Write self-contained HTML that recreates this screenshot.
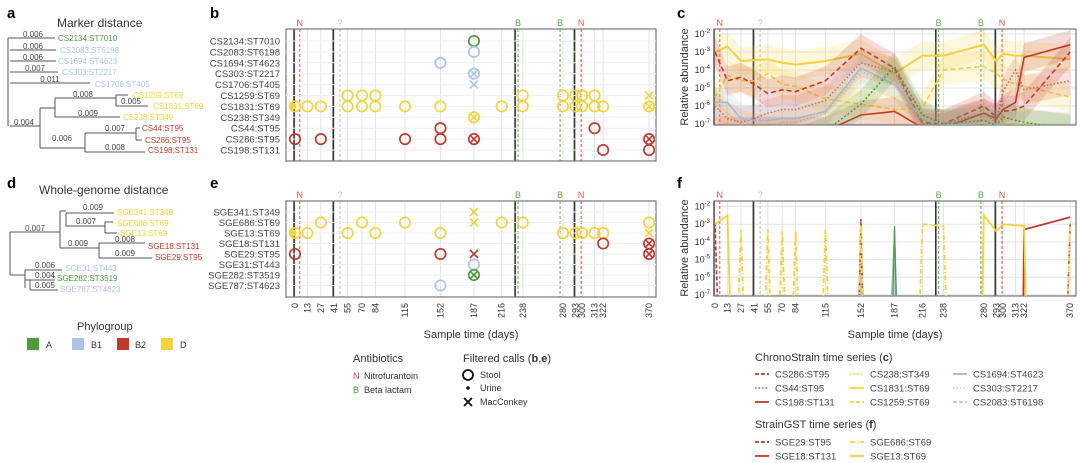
<!DOCTYPE html>
<html><head><meta charset="utf-8">
<style>
html,body{margin:0;padding:0;background:#fff;}
svg{display:block;font-family:"Liberation Sans",sans-serif;}
</style></head>
<body>
<svg id="fig" width="1080" height="463" viewBox="0 0 1080 463" xmlns="http://www.w3.org/2000/svg">
<g id="static">
  <text x="7" y="18" font-size="15" font-weight="bold">a</text>
  <text x="57" y="27" font-size="12" fill="#333">Marker distance</text>
  <text x="7" y="188" font-size="15" font-weight="bold">d</text>
  <text x="39" y="194" font-size="12" fill="#333">Whole-genome distance</text>
  <text x="210" y="18" font-size="15" font-weight="bold">b</text>
  <text x="210" y="188" font-size="15" font-weight="bold">e</text>
  <text x="677" y="18" font-size="15" font-weight="bold">c</text>
  <text x="677" y="188" font-size="15" font-weight="bold">f</text>
  <text transform="translate(688,77) rotate(-90)" text-anchor="middle" font-size="11" fill="#333">Relative abundance</text>
  <text transform="translate(688,248) rotate(-90)" text-anchor="middle" font-size="11" fill="#333">Relative abundance</text>
  <text x="471" y="338" text-anchor="middle" font-size="11" fill="#333">Sample time (days)</text>
  <text x="895" y="338" text-anchor="middle" font-size="11" fill="#333">Sample time (days)</text>

  <g>
    <text x="77" y="330" font-size="11" fill="#333">Phylogroup</text>
    <rect x="27" y="338" width="12" height="12" fill="#4e9a3a"/>
    <text x="46" y="348" font-size="9" fill="#333">A</text>
    <rect x="72" y="338" width="12" height="12" fill="#aec4e6"/>
    <text x="91" y="348" font-size="9" fill="#333">B1</text>
    <rect x="117" y="338" width="12" height="12" fill="#c0392b"/>
    <text x="135" y="348" font-size="9" fill="#333">B2</text>
    <rect x="161" y="338" width="12" height="12" fill="#f4d23a"/>
    <text x="180" y="348" font-size="9" fill="#333">D</text>
  </g>
  <g>
    <text x="353" y="362" font-size="11" fill="#333">Antibiotics</text>
    <text x="353" y="379" font-size="9" fill="#d9402f">N</text>
    <text x="364" y="379" font-size="9" fill="#333">Nitrofurantoin</text>
    <text x="353" y="393" font-size="9" fill="#4e9a3a">B</text>
    <text x="364" y="393" font-size="9" fill="#333">Beta lactam</text>
  </g>
  <g>
    <text x="463" y="362" font-size="11" fill="#333">Filtered calls (<tspan font-weight="bold">b</tspan>,<tspan font-weight="bold">e</tspan>)</text>
    <circle cx="468" cy="375" r="5" fill="none" stroke="#111" stroke-width="1.8"/>
    <text x="480" y="378" font-size="9" fill="#333">Stool</text>
    <circle cx="468" cy="388" r="1.8" fill="#111"/>
    <text x="480" y="391" font-size="9" fill="#333">Urine</text>
    <path d="M464,398 L472,406 M472,398 L464,406" stroke="#111" stroke-width="1.8"/>
    <text x="480" y="405" font-size="9" fill="#333">MacConkey</text>
  </g>
  <g>
    <text x="755" y="361" font-size="11" fill="#333">ChronoStrain time series (<tspan font-weight="bold">c</tspan>)</text>
    <text x="755" y="428" font-size="11" fill="#333">StrainGST time series (<tspan font-weight="bold">f</tspan>)</text>
  </g>
</g>
<g id="dyn"></g>
</svg>
<script>
// ---------- data ----------
const dayTicks = [0,13,27,41,55,70,84,115,152,187,216,238,280,293,300,313,322,370];
const blackLineDays = [-1,40,230,292];
const nDays = [5,299];
const qDays = [47];
const bDays = [233,277];

const bRows = ["CS2134:ST7010","CS2083:ST6198","CS1694:ST4623","CS303:ST2217","CS1706:ST405","CS1259:ST69","CS1831:ST69","CS238:ST349","CS44:ST95","CS286:ST95","CS198:ST131"];
const bRowGroups = ["A","B1","B1","B1","B1","D","D","D","B2","B2","B2"];
// marker types: o = stool circle, u = urine dot + circle, x = MacConkey, ox = circle + x
const bCallRow = [0,1,2,3,4, 5,5,5,5,5,5,5,5,5, 6,6,6,6,6,6,6,6,6,6,6,6,6,6,6,6, 7, 8,8, 9,9,9,9,9,9, 10,10];
const bCallDay = [187,187,152,187,187, 55,70,84,238,280,293,300,313,370, 0,13,27,55,70,84,115,152,216,238,280,293,300,313,322,370, 187, 152,313, 0,27,115,152,187,370, 322,370];
const bCallType = ["o","o","o","ox","x", "o","o","o","o","o","o","o","o","x", "u","o","o","o","o","o","o","o","o","o","o","o","o","o","o","ox", "ox", "o","o", "o","o","o","o","ox","ox", "o","o"];

const eRows = ["SGE341:ST349","SGE686:ST69","SGE13:ST69","SGE18:ST131","SGE29:ST95","SGE31:ST443","SGE282:ST3519","SGE787:ST4623"];
const eRowGroups = ["D","D","D","B2","B2","B1","A","B1"];
const eCallRow = [0, 1,1,1,1,1,1,1, 2,2,2,2,2,2,2,2,2,2,2, 3,3, 4,4,4,4, 5, 6, 7];
const eCallDay = [187, 27,70,115,187,216,238,370, 0,13,55,84,152,280,293,300,313,322,370, 322,370, 0,152,187,370, 187, 187, 152];
const eCallType = ["x", "o","o","o","x","o","o","o", "u","o","o","o","o","o","o","o","o","o","x", "o","ox", "o","o","x","ox", "o", "ox", "o"];

const cDays = [0,13,27,41,55,70,84,115,152,187,216,238,280,293,300,313,322,370];
const cs1831 = [-3.0,-2.7,-3.5,-3.45,-3.4,-3.6,-3.7,-3.5,-3.1,-4.2,-3.2,-3.2,-2.6,-3.5,-3.1,-3.2,-3.2,-3.4];
const cs1259 = [-5.5,-4.3,-4.6,-4.6,-4.2,-4.8,-4.9,-5.6,-5.9,-6.2,-6.1,-4.0,-3.8,-4.2,-4.5,-4.8,-4.9,-5.5];
const cs238  = [-5.8,-6.4,-7.0,-7.2,-7.2,-6.9,-6.9,-6.4,-4.1,-4.8,-7.0,-7.1,-7.2,-7.2,-7.0,-7.0,-7.0,-7.2];
const cs286  = [-3.0,-4.6,-4.4,-4.8,-5.3,-5.1,-5.2,-4.6,-2.8,-3.9,-6.9,-7.0,-6.0,-6.6,-6.3,-6.2,-6.0,-3.0];
const cs44   = [-6.0,-6.7,-6.9,-6.7,-6.4,-6.2,-6.2,-5.7,-3.6,-4.1,-7.0,-7.0,-6.4,-6.9,-5.2,-4.0,-5.1,-4.6];
const cs198  = [-7.4,-7.4,-7.4,-7.4,-7.4,-7.4,-7.4,-7.4,-6.5,-6.3,-7.2,-7.2,-6.4,-6.7,-6.2,-5.8,-3.3,-2.6];
const cs1694 = [-5.8,-5.8,-6.7,-6.8,-6.8,-6.7,-6.7,-6.3,-3.9,-4.8,-6.7,-7.0,-7.1,-7.0,-7.1,-7.1,-7.1,-7.1];
const cs2134 = [-8,-8,-8,-8,-8,-8,-8,-7.4,-5.9,-3.8,-6.5,-7.0,-6.8,-7.1,-6.6,-6.8,-6.9,-7.3];

const f13Days = [0,13,16,278,280,293,300,322,324];
const f13Vals = [-3.0,-2.5,-8,-8,-2.5,-3.4,-3.0,-3.1,-8];
const f686Days = [24,27,30,52,55,58,67,70,73,81,84,87,112,115,118,150,152,154,213,216,238,241,367,370];
const f686Vals = [-8,-3.3,-8,-8,-3.3,-8,-8,-3.4,-8,-8,-3.4,-8,-8,-3.3,-8,-8,-3.0,-8,-8,-3.0,-3.1,-8,-8,-2.9];
const f18Days = [321,322,370];
const f18Vals = [-8,-3.3,-2.6];
const f29Days = [0,3,150,152,154,367,370];
const f29Vals = [-2.9,-8,-8,-2.7,-8,-8,-2.9];
const fBlueDays = [149,152,155,183,187,190];
const fBlueVals = [-8,-3.2,-8,-8,-3.2,-8];
const fGreenDays = [185,187,189];
const fGreenVals = [-8,-3.1,-8];

const treeALabels = ["CS2134:ST7010","CS2083:ST6198","CS1694:ST4623","CS303:ST2217","CS1706:ST405","CS1259:ST69","CS1831:ST69","CS238:ST349","CS44:ST95","CS286:ST95","CS198:ST131"];
const treeDLabels = ["SGE341:ST349","SGE686:ST69","SGE13:ST69","SGE18:ST131","SGE29:ST95","SGE31:ST443","SGE282:ST3519","SGE787:ST4623"];

// ---------- helpers ----------
const NS = "http://www.w3.org/2000/svg";
const dyn = document.getElementById("dyn");
const COL = {A:"#4e9a3a",B1:"#aec4e6",B2:"#c0392b",D:"#f4d23a"};
function mk(tag, attrs, parent){const e=document.createElementNS(NS,tag);for(const k in attrs)e.setAttribute(k,attrs[k]);(parent||dyn).appendChild(e);return e;}
function txt(x,y,s,attrs,parent){const e=mk("text",Object.assign({x:x,y:y},attrs),parent);e.textContent=s;return e;}

// ---------- events & frames ----------
function frame(x0,x1,y0,y1,scaleX,name,parent){
  const g=mk("g",{},parent);
  
  
  dayTicks.forEach(d=>{const l=mk("line",{x1:scaleX(d),x2:scaleX(d),y1:y0,y2:y1,stroke:"#e3e3e3","stroke-width":1},g);
    
    });
  blackLineDays.forEach(d=>{const l=mk("line",{x1:scaleX(d),x2:scaleX(d),y1:y0,y2:y1,stroke:"#333","stroke-width":1.6},g);
    
    });
  const ev=[[nDays,"#e0574a","N"],[qDays,"#bbb","?"],[bDays,"#5aa845","B"]];
  ev.forEach(([arr,c,lab])=>arr.forEach(d=>{
    const l=mk("line",{x1:scaleX(d),x2:scaleX(d),y1:y0,y2:y1,stroke:c,"stroke-width":1,"stroke-dasharray":"3,2"},g);
    
    
    const t=txt(scaleX(d),y0-3,lab,{"text-anchor":"middle","font-size":9,fill:c},g);
    
    
  }));
  const r=mk("rect",{x:x0,y:y0,width:x1-x0,height:y1-y0,fill:"none",stroke:"#777","stroke-width":1.2},g);
  
  
  return g;
}
function xTicks(scaleX,y,name){
  dayTicks.forEach(d=>{
    const t=txt(0,0,String(d),{transform:`translate(${scaleX(d)+3},${y}) rotate(-90)`,"text-anchor":"end","font-size":9,fill:"#333"});
    
    
  });
}

// ---------- dot panels (b, e) ----------
const sxB = d=>295+d*0.957;
function dotPanel(rows,groups,cr,cd,ct,y0,y1,rowY0,step,prefix){
  frame(286,656,y0,y1,sxB,prefix+"-frame");
  rows.forEach((r,i)=>{const t=txt(280,rowY0+i*step+3.5,r,{"text-anchor":"end","font-size":9.5,fill:"#444"});
    
    
    const l=mk("line",{x1:286,x2:656,y1:rowY0+i*step,y2:rowY0+i*step,stroke:"#efefef"});
    
    });
  cd.forEach((d,i)=>{
    const cx=sxB(d), cy=rowY0+cr[i]*step, c=COL[groups[cr[i]]], t=ct[i];
    const g=mk("g",{});
    
    
    if(t!=="x") mk("circle",{cx:cx,cy:cy,r:5.2,fill:"none",stroke:c,"stroke-width":1.7},g);
    if(t==="u") mk("circle",{cx:cx-2,cy:cy,r:3.5,fill:c},g);
    if(t==="x"||t==="ox"){const s=t==="x"?4:3;mk("path",{d:`M${cx-s},${cy-s}L${cx+s},${cy+s}M${cx+s},${cy-s}L${cx-s},${cy+s}`,stroke:c,"stroke-width":1.6},g);}
  });
}
dotPanel(bRows,bRowGroups,bCallRow,bCallDay,bCallType,29,161,41,10.9,"b");
dotPanel(eRows,eRowGroups,eCallRow,eCallDay,eCallType,201,297,212,10.5,"e");
xTicks(sxB,303,"e-x-tick");

// ---------- line panels (c, f) ----------
const sxC = d=>715+d*0.96;
function logAxis(y0,y1,topY,step,prefix){
  for(let k=2;k<=7;k++){const y=topY+(k-2)*step;
    const l=mk("line",{x1:714,x2:1076,y1:y,y2:y,stroke:"#e3e3e3"});
    
    
    const t=txt(710,y+3,"10",{"text-anchor":"end","font-size":9,fill:"#333"});
    
    
    const s=mk("tspan",{dy:-4,"font-size":6},t);s.textContent="-"+k;}
}
function clipFor(id,y0,y1){const cp=mk("clipPath",{id:id});mk("rect",{x:714,y:y0,width:362,height:y1-y0},cp);}
clipFor("clipC",29,125);clipFor("clipF",201,296);
logAxis(29,125,34,18,"c");
frame(714,1076,29,125,sxC,"c-frame");
const syC = v=>34+(-2-v)*18;
const cSeries=[[cs1831,"#f4d23a","",2],[cs1259,"#f4d23a","5,3",1.6],[cs238,"#f4d23a","1.5,2",1.6],
  [cs286,"#c0392b","5,3",1.6],[cs44,"#d0685c","1.5,2",1.6],[cs198,"#c0392b","",1.6],
  [cs1694,"#9fb8dd","",1.5],[cs2134,"#4e9a3a","2,2",1.5]];
const gC=mk("g",{"clip-path":"url(#clipC)"});


cSeries.forEach(([vals,c,dash,w])=>{
  const up=cDays.map((d,i)=>`${sxC(d)},${syC(vals[i]+0.8)}`);
  const dn=cDays.map((d,i)=>`${sxC(d)},${syC(vals[i]-0.8)}`).reverse();
  const band=mk("polygon",{points:up.concat(dn).join(" "),fill:c,opacity:0.18},gC);
  
  
  const p=mk("polyline",{points:cDays.map((d,i)=>`${sxC(d)},${syC(vals[i])}`).join(" "),fill:"none",stroke:c,"stroke-width":w,"stroke-dasharray":dash},gC);
  
  
});

logAxis(201,296,206.5,17.7,"f");
frame(714,1076,201,296,sxC,"f-frame");
const syF = v=>206.5+(-2-v)*17.7;
const gF=mk("g",{"clip-path":"url(#clipF)"});


function fLine(days,vals,c,dash,w,fill,name){
  const pts=days.map((d,i)=>`${sxC(d)},${syF(vals[i])}`).join(" ");
  const p=mk(fill?"polygon":"polyline",{points:pts,fill:fill?c:"none","fill-opacity":fill?0.6:0,stroke:c,"stroke-width":w,"stroke-dasharray":dash},gF);
  
  
}
fLine(fBlueDays,fBlueVals,"#9fb8dd","",1,true,"f-b1-spike");
fLine(fGreenDays,fGreenVals,"#4e9a3a","",1.2,false,"f-a-spike");
fLine(f29Days,f29Vals,"#c0392b","4,2",1.6,false,"f-sge29-line");
fLine(f18Days,f18Vals,"#c0392b","",1.8,false,"f-sge18-line");
fLine(f686Days,f686Vals,"#f4d23a","5,2,1,2",1.8,false,"f-sge686-line");
fLine(f13Days,f13Vals,"#f4d23a","",1.8,false,"f-sge13-line");
xTicks(sxC,303,"f-x-tick");

// ---------- series legends ----------
const legC=[["CS286:ST95","#c0392b","4,2"],["CS44:ST95","#d0685c","1.5,2"],["CS198:ST131","#c0392b",""],
  ["CS238:ST349","#f4d23a","1.5,2"],["CS1831:ST69","#f4d23a",""],["CS1259:ST69","#f4d23a","4,2"],
  ["CS1694:ST4623","#9fb8dd",""],["CS303:ST2217","#c9d8ee","1.5,2"],["CS2083:ST6198","#aec4e6","4,2"]];
legC.forEach(([lab,c,dash],i)=>{
  const col=Math.floor(i/3), row=i%3, x=[755,850,953][col], y=374+row*14;
  const l=mk("line",{x1:x,x2:x+14,y1:y,y2:y,stroke:c,"stroke-width":1.8,"stroke-dasharray":dash});
  
  
  const t=txt(x+20,y+3.5,lab,{"font-size":9.5,fill:"#444"});
  
  
});
const legF=[["SGE29:ST95","#c0392b","4,2"],["SGE18:ST131","#c0392b",""],["SGE686:ST69","#f4d23a","5,2,1,2"],["SGE13:ST69","#f4d23a",""]];
legF.forEach(([lab,c,dash],i)=>{
  const col=Math.floor(i/2), row=i%2, x=[755,850][col], y=442+row*14;
  const l=mk("line",{x1:x,x2:x+14,y1:y,y2:y,stroke:c,"stroke-width":1.8,"stroke-dasharray":dash});
  
  
  const t=txt(x+20,y+3.5,lab,{"font-size":9.5,fill:"#444"});
  
  
});

// ---------- trees ----------
function tree(segs,labels,lx,ly,groups,blens,name){
  const g=mk("g",{});
  
  
  segs.forEach(s=>mk("path",{d:s,stroke:"#555","stroke-width":1,fill:"none"},g));
  labels.forEach((lab,i)=>{const t=txt(lx[i],ly[i]+3,lab,{"font-size":8,fill:COL[groups[i]]},g);
    
    });
  blens.forEach(([x,y,s])=>{const t=txt(x,y,s,{"font-size":8,fill:"#444","text-anchor":"middle"},g);
    
    });
}
tree(["M8,38V126","M8,38H55","M10,50H56","M10,61H56","M10,72H58","M10,83H90","M10,126H40","M40,108V148","M40,108H55","M55,98V117","M55,98H116","M116,95V106","M116,95H128","M116,106H148","M55,117H120","M40,148H85","M85,133V152","M85,133H136","M136,128V140","M136,128H140","M136,140H142","M85,152H145"],
  treeALabels,[58,60,58,62,95,133,153,123,142,145,148],[38,50,61,72,84,95,106,117,128,140,150],
  ["A","B1","B1","B1","B1","D","D","D","B2","B2","B2"],
  [[33,37,"0.006"],[33,49,"0.006"],[33,60,"0.006"],[35,71,"0.007"],[50,82,"0.011"],[83,97,"0.008"],[131,104,"0.005"],[88,116,"0.009"],[24,125,"0.004"],[62,141,"0.006"],[115,131,"0.007"],[115,150,"0.008"]],"tree-a");
tree(["M10,232V275","M10,232H60","M60,211V248","M60,211H66","M66,213V226","M66,213H114","M66,226H105","M105,222V233","M105,222H113","M105,233H117","M60,248H99","M99,243V258","M99,243H145","M99,258H152","M10,275H25","M25,270V288","M25,270H62","M25,280H55","M30,280V290","M30,290H58"],
  treeDLabels,[117,117,120,148,155,65,57,60],[212,223,233,246,257,268,278,289],
  ["D","D","D","B2","B2","B1","A","B1"],
  [[93,210,"0.009"],[86,224,"0.007"],[35,231,"0.007"],[78,246,"0.009"],[125,242,"0.008"],[125,256,"0.009"],[45,268,"0.006"],[45,278,"0.004"],[45,288,"0.005"]],"tree-d");
</script>
</body></html>
